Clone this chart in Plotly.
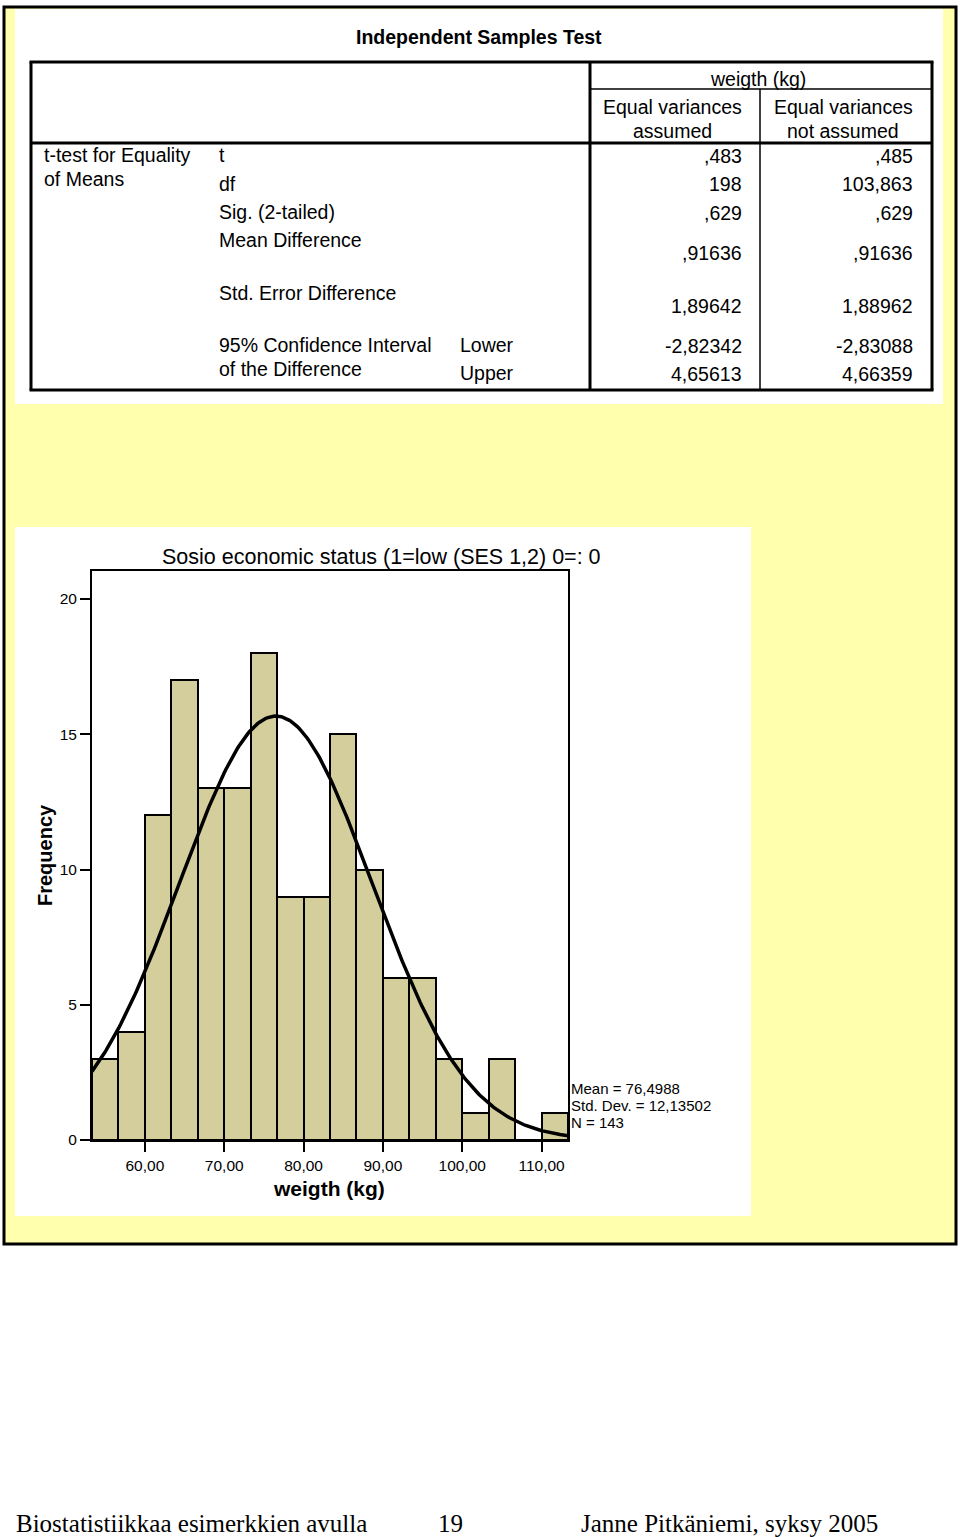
import numpy as np
import plotly.graph_objects as go

W, H = 960, 1545
REF_H = 1537

# ---------------- Data ----------------
bin_lower = [53.333, 56.667, 60.0, 63.333, 66.667, 70.0, 73.333, 76.667, 80.0,
             83.333, 86.667, 90.0, 93.333, 96.667, 100.0, 103.333, 106.667, 110.0]
bin_width = 10.0 / 3.0
counts = [3, 4, 12, 17, 13, 13, 18, 9, 9, 15, 10, 6, 6, 3, 1, 3, 0, 1]
mean_w = 76.4988
sd_w = 12.13502
n_w = 143

x_tickvals = [60, 70, 80, 90, 100, 110]
x_ticktext = ["60,00", "70,00", "80,00", "90,00", "100,00", "110,00"]
y_tickvals = [0, 5, 10, 15, 20]

row_labels = ["t", "df", "Sig. (2-tailed)", "Mean Difference", "Std. Error Difference"]
col_assumed = [",483", "198", ",629", ",91636", "1,89642", "-2,82342", "4,65613"]
col_not_assumed = [",485", "103,863", ",629", ",91636", "1,88962", "-2,83088", "4,66359"]

# ---------------- helpers ----------------
def px(x):
    return x / W

def py(y):
    return 1 - y / REF_H

SANS = "Liberation Sans, Arial, sans-serif"
SERIF = "Liberation Serif, Times New Roman, serif"
TF = 19.5  # table font size

shapes = []
annotations = []

def rect(x0, y0, x1, y1, fill, line_color=None, lw=0, layer="below"):
    shapes.append(dict(type="rect", xref="paper", yref="paper",
                       x0=px(x0), x1=px(x1), y0=py(y1), y1=py(y0),
                       fillcolor=fill,
                       line=dict(color=line_color or "rgba(0,0,0,0)", width=lw),
                       layer=layer))

def line(x0, y0, x1, y1, lw=1.5, color="black"):
    shapes.append(dict(type="line", xref="paper", yref="paper",
                       x0=px(x0), x1=px(x1), y0=py(y0), y1=py(y1),
                       line=dict(color=color, width=lw), layer="above"))

def text(s, x, y, size=19, anchor="left", bold=False, family=SANS, angle=0):
    annotations.append(dict(text=("<b>%s</b>" % s) if bold else s,
                            x=px(x), y=py(y), xref="paper", yref="paper",
                            xanchor=anchor, yanchor="middle", showarrow=False,
                            textangle=angle,
                            font=dict(family=family, size=size, color="black")))

# ---------------- page background ----------------
YEL = "#FFFFAD"
rect(4, 7, 956, 1244, YEL, "black", 3)
rect(15, 9, 943, 404, "white")
rect(15, 527, 751, 1216, "white")

# ---------------- table ----------------
text("Independent Samples Test", 479, 37, 19.5, "center", bold=True)
TL, TR, TT, TB = 31, 932, 62, 390
line(TL - 1.5, TT, TR + 1.5, TT, 3)
line(TL - 1.5, TB, TR + 1.5, TB, 3)
line(TL, TT, TL, TB, 3)
line(TR, TT, TR, TB, 3)
line(590, TT, 590, TB, 3)
line(590, 89, TR, 89, 1.5)
line(TL, 143, TR, 143, 3)
line(760, 89, 760, TB, 1.5)

text("weigth (kg)", 758, 79, TF, "center")
text("Equal variances", 672, 107, TF, "center")
text("assumed", 672, 131, TF, "center")
text("Equal variances", 843, 107, TF, "center")
text("not assumed", 843, 131, TF, "center")

text("t-test for Equality", 42, 155, TF)
text("of Means", 42, 179, TF)

label_y = [155, 184, 212, 240, 293]
for s, yy in zip(row_labels, label_y):
    text(s, 217, yy, TF)
text("95% Confidence Interval", 217, 345, TF)
text("of the Difference", 217, 369, TF)
text("Lower", 458, 345, TF)
text("Upper", 458, 373, TF)

val_y = [156, 184, 213, 253, 306, 346, 374]
for a, b, yy in zip(col_assumed, col_not_assumed, val_y):
    text(a, 744, yy, TF, "right")
    text(b, 915, yy, TF, "right")

# ---------------- histogram ----------------
centers = [b + bin_width / 2 for b in bin_lower]
x_min = bin_lower[0]
x_max = bin_lower[-1] + bin_width

xs = np.linspace(x_min, x_max, 300)
ys = n_w * bin_width * np.exp(-0.5 * ((xs - mean_w) / sd_w) ** 2) / (sd_w * np.sqrt(2 * np.pi))

fig = go.Figure()
fig.add_trace(go.Bar(x=centers, y=counts, width=[bin_width] * len(counts),
                     marker=dict(color="#D3CE9B", line=dict(color="black", width=2)),
                     hoverinfo="skip"))
fig.add_trace(go.Scatter(x=xs, y=ys, mode="lines",
                         line=dict(color="black", width=3.5), hoverinfo="skip"))

y_top = 20 * (1140 - 571) / (1140 - 599)

fig.update_layout(
    width=W, height=H,
    margin=dict(l=0, r=0, t=0, b=0),
    paper_bgcolor="white",
    plot_bgcolor="rgba(0,0,0,0)",
    showlegend=False,
    bargap=0,
    xaxis=dict(domain=[px(92), px(568)], range=[x_min, x_max],
               showline=True, mirror=True, linecolor="black", linewidth=2,
               showgrid=False, zeroline=False,
               ticks="outside", ticklen=10, tickwidth=2, tickcolor="black",
               tickvals=x_tickvals, ticktext=x_ticktext,
               tickfont=dict(family=SANS, size=15.5, color="black")),
    yaxis=dict(domain=[py(1140), py(571)], range=[0, y_top],
               showline=True, mirror=True, linecolor="black", linewidth=2,
               showgrid=False, zeroline=False,
               ticks="outside", ticklen=10, tickwidth=2, tickcolor="black",
               tickvals=y_tickvals,
               tickfont=dict(family=SANS, size=15.5, color="black")),
)

text("Sosio economic status (1=low (SES 1,2) 0=: 0", 381, 557, 21.5, "center")
text("Frequency", 45, 855, 20, "center", bold=True, angle=-90)
text("weigth (kg)", 329, 1188, 21, "center", bold=True)
text("Mean = 76,4988", 569, 1088, 15)
text("Std. Dev. = 12,13502", 569, 1105, 15)
text("N = 143", 569, 1122, 15)

# ---------------- footer ----------------
text("Biostatistiikkaa esimerkkien avulla", 14, 1523, 25, family=SERIF)
text("19", 436, 1523, 25, family=SERIF)
text("Janne Pitkäniemi, syksy 2005", 579, 1523, 25, family=SERIF)

fig.update_layout(shapes=shapes, annotations=annotations)
fig.write_html("out.html",
               config={"displayModeBar": False},
               post_script="document.body.style.margin='0';document.body.style.overflow='hidden';")
